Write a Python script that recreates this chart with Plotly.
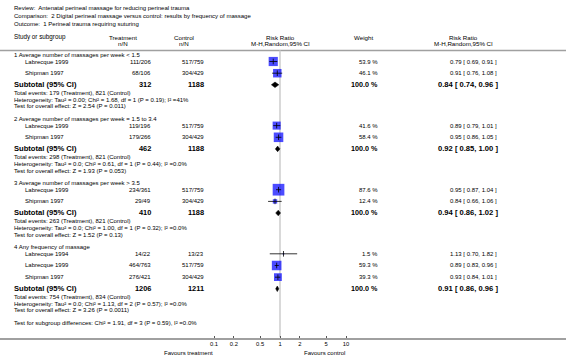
import math
import plotly.graph_objects as go

W, H = 566, 361
FONT = "Liberation Sans, Arial, sans-serif"

# ---------------- data ----------------
review = "Review:  Antenatal perineal massage for reducing perineal trauma"
comparison = "Comparison:  2 Digital perineal massage versus control: results by frequency of massage"
outcome = "Outcome:  1 Perineal trauma requiring suturing"

group_titles = [
    "1 Average number of massages per week &lt; 1.5",
    "2 Average number of massages per week = 1.5 to 3.4",
    "3 Average number of massages per week &gt; 3.5",
    "4 Any frequency of massage",
]
study_group = [0, 0, 1, 1, 2, 2, 3, 3, 3]
study_names = ["Labrecque 1999", "Shipman 1997", "Labrecque 1999", "Shipman 1997",
               "Labrecque 1999", "Shipman 1997", "Labrecque 1994", "Labrecque 1999", "Shipman 1997"]
treat_events = [111, 68, 119, 179, 234, 29, 14, 464, 276]
treat_total = [206, 106, 196, 266, 361, 49, 22, 763, 421]
ctrl_events = [517, 304, 517, 304, 517, 304, 13, 517, 304]
ctrl_total = [759, 429, 759, 429, 759, 429, 23, 759, 429]
weights = [53.9, 46.1, 41.6, 58.4, 87.6, 12.4, 1.5, 59.3, 39.3]
rr = [0.79, 0.91, 0.89, 0.95, 0.95, 0.84, 1.13, 0.89, 0.93]
rr_lo = [0.69, 0.76, 0.79, 0.86, 0.87, 0.66, 0.70, 0.83, 0.84]
rr_hi = [0.91, 1.08, 1.01, 1.05, 1.04, 1.06, 1.82, 0.96, 1.01]

sub_treat_total = [312, 462, 410, 1206]
sub_ctrl_total = [1188, 1188, 1188, 1211]
sub_weight = [100.0, 100.0, 100.0, 100.0]
sub_rr = [0.84, 0.92, 0.94, 0.91]
sub_lo = [0.74, 0.85, 0.86, 0.86]
sub_hi = [0.96, 1.00, 1.02, 0.96]
sub_events_treat = [179, 298, 263, 754]
sub_events_ctrl = [821, 821, 821, 834]
heterogeneity = [
    "Tau² = 0.00; Chi² = 1.68, df = 1 (P = 0.19); I² =41%",
    "Tau² = 0.0; Chi² = 0.61, df = 1 (P = 0.44); I² =0.0%",
    "Tau² = 0.0; Chi² = 1.00, df = 1 (P = 0.32); I² =0.0%",
    "Tau² = 0.0; Chi² = 1.13, df = 2 (P = 0.57); I² =0.0%",
]
overall_effect = ["Z = 2.54 (P = 0.011)", "Z = 1.93 (P = 0.053)",
                  "Z = 1.52 (P = 0.13)", "Z = 3.26 (P = 0.0011)"]
subgroup_diff = "Test for subgroup differences: Chi² = 1.91, df = 3 (P = 0.59), I² =0.0%"
tick_vals = [0.1, 0.2, 0.5, 1, 2, 5, 10]
tick_labels = ["0.1", "0.2", "0.5", "1", "2", "5", "10"]
favours_left = "Favours treatment"
favours_right = "Favours control"

# ---------------- layout geometry (pixels) ----------------
AXIS_Y = 337.5
CENTER_X = 280.0
DECADE = 66.0
GROUP_START = 54.5
A_GAP, S_GAP, B_GAP = 7.0, 11.7, 11.6
TE_GAP, C_GAP, D_GAP = 8.5, 6.6, 12.1

study_y = []
group_y, sub_y, te_y, het_y, ov_y = [], [], [], [], []
y = GROUP_START
for g in range(len(group_titles)):
    group_y.append(y)
    idx = [i for i, sg in enumerate(study_group) if sg == g]
    cur = y + A_GAP
    for k, i in enumerate(idx):
        study_y.append(cur)
        if k < len(idx) - 1:
            cur += S_GAP
    cur += B_GAP
    sub_y.append(cur)
    te_y.append(cur + TE_GAP)
    het_y.append(cur + TE_GAP + C_GAP)
    ov_y.append(cur + TE_GAP + 2 * C_GAP)
    y = cur + TE_GAP + 2 * C_GAP + D_GAP
diff_y = y

annotations = []


def txt(x, yy, s, size=6.0, anchor="left", bold=False):
    annotations.append(dict(
        x=x / W, xref="paper", y=1 - yy / H, yref="paper",
        text=("<b>" + s + "</b>") if bold else s,
        showarrow=False, xanchor=anchor, yanchor="middle",
        font=dict(size=size, color="black", family=FONT), borderpad=0))


# titles
txt(13, 8.5, review)
txt(13, 16.3, comparison)
txt(13, 24, outcome)
# headers
txt(13, 37, "Study or subgroup", 6.3)
txt(123, 37, "Treatment", 6.2, "center")
txt(123, 44, "n/N", 6.2, "center")
txt(184, 37, "Control", 6.2, "center")
txt(184, 44, "n/N", 6.2, "center")
txt(CENTER_X, 37, "Risk Ratio", 6.2, "center")
txt(CENTER_X, 44, "M-H,Random,95% CI", 6.2, "center")
txt(363, 37, "Weight", 6.2, "center")
txt(463, 37, "Risk Ratio", 6.2, "center")
txt(463, 44, "M-H,Random,95% CI", 6.2, "center")

for i in range(len(study_names)):
    yy = study_y[i]
    txt(24, yy, study_names[i])
    txt(152, yy, f"{treat_events[i]}/{treat_total[i]}", anchor="right")
    txt(205, yy, f"{ctrl_events[i]}/{ctrl_total[i]}", anchor="right")
    txt(379, yy, f"{weights[i]:.1f} %", anchor="right")
    txt(498, yy, f"{rr[i]:.2f} [ {rr_lo[i]:.2f}, {rr_hi[i]:.2f} ]", anchor="right")

for g in range(len(group_titles)):
    txt(13, group_y[g], group_titles[g])
    txt(13, sub_y[g], "Subtotal (95% CI)", 7.6, bold=True)
    txt(152, sub_y[g], f"{sub_treat_total[g]}", 7.4, "right", bold=True)
    txt(205, sub_y[g], f"{sub_ctrl_total[g]}", 7.4, "right", bold=True)
    txt(379, sub_y[g], f"{sub_weight[g]:.1f} %", 7.2, "right", bold=True)
    txt(499, sub_y[g], f"{sub_rr[g]:.2f} [ {sub_lo[g]:.2f}, {sub_hi[g]:.2f} ]", 7.6, "right", bold=True)
    txt(13, te_y[g], f"Total events: {sub_events_treat[g]} (Treatment), {sub_events_ctrl[g]} (Control)")
    txt(13, het_y[g], "Heterogeneity: " + heterogeneity[g])
    txt(13, ov_y[g], "Test for overall effect: " + overall_effect[g])

txt(13, diff_y, subgroup_diff)
x_left = CENTER_X + math.log10(tick_vals[0]) * DECADE
x_right = CENTER_X + math.log10(tick_vals[-1]) * DECADE
txt(x_left, 352.5, favours_left, anchor="right")
txt(x_right, 352.5, favours_right, anchor="right")

fig = go.Figure()

# squares (area proportional to weight)
fig.add_trace(go.Scatter(
    x=rr, y=study_y, mode="markers",
    marker=dict(symbol="square", size=[1.25 * math.sqrt(w) for w in weights],
                color="#0000ff", line=dict(width=0)),
    hoverinfo="skip", showlegend=False))
# confidence intervals
cx, cy = [], []
for i in range(len(rr)):
    cx += [rr_lo[i], rr_hi[i], None]
    cy += [study_y[i], study_y[i], None]
fig.add_trace(go.Scatter(x=cx, y=cy, mode="lines", line=dict(color="black", width=0.8),
                         hoverinfo="skip", showlegend=False))
fig.add_trace(go.Scatter(
    x=rr, y=study_y, mode="markers",
    marker=dict(symbol="line-ns", size=4, line=dict(color="black", width=0.8)),
    hoverinfo="skip", showlegend=False))
# subtotal diamonds
DH = 2.8
for g in range(len(sub_rr)):
    fig.add_trace(go.Scatter(
        x=[sub_lo[g], sub_rr[g], sub_hi[g], sub_rr[g], sub_lo[g]],
        y=[sub_y[g], sub_y[g] - DH, sub_y[g], sub_y[g] + DH, sub_y[g]],
        mode="lines", fill="toself", fillcolor="black",
        line=dict(color="black", width=0.5), hoverinfo="skip", showlegend=False))

shapes = [
    dict(type="line", xref="paper", x0=0, x1=1, yref="y", y0=50.5, y1=50.5,
         line=dict(color="#a0a0a0", width=1.5), layer="below"),
    dict(type="line", xref="x", x0=1, x1=1, yref="y", y0=50.5, y1=AXIS_Y,
         line=dict(color="#d0d0d0", width=1.6), layer="below"),
]

lo_log = -CENTER_X / DECADE
hi_log = (W - CENTER_X) / DECADE
fig.update_layout(
    width=W, height=H, margin=dict(l=0, r=0, t=0, b=0, autoexpand=False),
    paper_bgcolor="white", plot_bgcolor="white",
    showlegend=False, annotations=annotations, shapes=shapes,
    xaxis=dict(type="log", range=[lo_log, hi_log], domain=[0, 1],
               tickvals=tick_vals, ticktext=tick_labels,
               ticks="inside", ticklen=2, tickwidth=0.8, tickcolor="#555",
               tickfont=dict(size=5.8, family=FONT, color="black"),
               showline=True, linecolor="#a0a0a0", linewidth=2, automargin=False,
               showgrid=False, zeroline=False, fixedrange=True),
    yaxis=dict(range=[AXIS_Y, 0], domain=[(H - AXIS_Y) / H, 1], automargin=False,
               showticklabels=False, showgrid=False, zeroline=False,
               showline=False, ticks="", fixedrange=True),
)

fig.write_html("out.html", config={"displayModeBar": False},
               post_script="document.body.style.margin='0px';document.body.style.padding='0px';")
